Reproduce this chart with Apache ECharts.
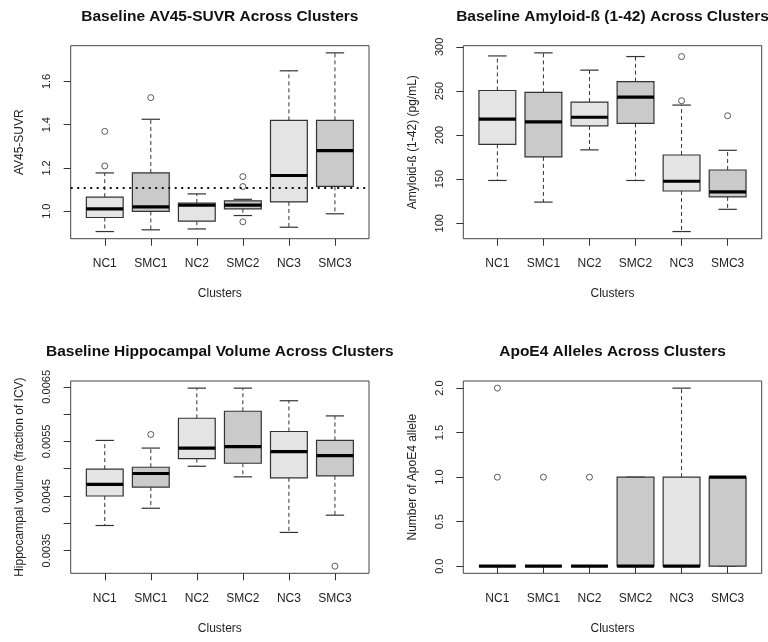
<!DOCTYPE html>
<html>
<head>
<meta charset="utf-8">
<script src="https://cdn.jsdelivr.net/npm/echarts@6/dist/echarts.min.js"></script>
<style>
  html, body { margin: 0; padding: 0; background: #fff; }
  #chart { width: 768px; height: 642px; }
</style>
</head>
<body>
<div id="chart"></div>
<script>
// categories shared by all four panels
const categories = ['NC1', 'SMC1', 'NC2', 'SMC2', 'NC3', 'SMC3'];

// box stats per cluster: [lower whisker, Q1, median, Q3, upper whisker]
const suvrStats = [
  [0.906, 0.971, 1.011, 1.065, 1.177],
  [0.914, 0.999, 1.020, 1.177, 1.425],
  [0.918, 0.954, 1.028, 1.038, 1.080],
  [0.980, 1.011, 1.028, 1.048, 1.055],
  [0.926, 1.043, 1.165, 1.420, 1.649],
  [0.988, 1.115, 1.280, 1.420, 1.732]
];
// outliers: [cluster number, value]
const suvrOutliers = [[1, 1.209], [1, 1.369], [2, 1.525], [4, 1.160], [4, 1.114], [4, 0.951]];
const suvrThreshold = 1.11;
const suvrTicks = [1.0, 1.2, 1.4, 1.6];

const amyloidStats = [
  [148.5, 189.5, 218.0, 250.5, 289.7],
  [124.0, 175.2, 215.0, 248.4, 293.2],
  [183.2, 210.3, 220.2, 237.4, 273.6],
  [148.5, 213.3, 243.0, 260.5, 289.0],
  [90.6, 136.6, 147.6, 177.4, 234.0],
  [115.8, 129.9, 135.5, 160.4, 182.7]
];
const amyloidOutliers = [[5, 289.0], [5, 238.9], [6, 221.9]];
const amyloidTicks = [100, 150, 200, 250, 300];

const hippoStats = [
  [0.003960, 0.004500, 0.004713, 0.004991, 0.005518],
  [0.004276, 0.004664, 0.004912, 0.005027, 0.005378],
  [0.005045, 0.005185, 0.005378, 0.005924, 0.006476],
  [0.004851, 0.005100, 0.005403, 0.006052, 0.006476],
  [0.003833, 0.004833, 0.005312, 0.005682, 0.006245],
  [0.004149, 0.004869, 0.005240, 0.005518, 0.005967]
];
const hippoOutliers = [[2, 0.005627], [6, 0.003215]];
const hippoTicks = [0.0035, 0.004, 0.0045, 0.005, 0.0055, 0.006, 0.0065];
const hippoLabels = [0.0035, 0.0045, 0.0055, 0.0065];

const apoeStats = [
  [0, 0, 0, 0, 0],
  [0, 0, 0, 0, 0],
  [0, 0, 0, 0, 0],
  [0, 0, 0, 1, 1],
  [0, 0, 0, 1, 2],
  [0, 0, 1, 1, 1]
];
const apoeOutliers = [[1, 1], [1, 2], [2, 1], [3, 1]];
const apoeTicks = [0, 0.5, 1, 1.5, 2];

const titles = [
  'Baseline AV45-SUVR Across Clusters',
  'Baseline Amyloid-ß (1-42) Across Clusters',
  'Baseline Hippocampal Volume Across Clusters',
  'ApoE4 Alleles Across Clusters'
];
const yNames = [
  'AV45-SUVR',
  'Amyloid-ß (1-42) (pg/mL)',
  'Hippocampal volume (fraction of ICV)',
  'Number of ApoE4 allele'
];

const FONT = 'Liberation Sans, Arial, sans-serif';
const INK = '#333';
const TEXT = '#222';
const FILLS = ['#e4e4e4', '#cacaca'];
const BOX_W = 0.8;

const grids = [
  { left: 70.7, top: 45.7, width: 298.3, height: 193 },
  { left: 463.3, top: 45.7, width: 298.4, height: 193 },
  { left: 70.7, top: 381, width: 298.3, height: 192.3 },
  { left: 463.3, top: 381, width: 298.4, height: 192.3 }
];

// R-style 4% padding of the data range
function padRange(stats, outliers) {
  const vals = stats.flat().concat(outliers.map(o => o[1]));
  const lo = Math.min(...vals), hi = Math.max(...vals);
  const d = (hi - lo) * 0.04;
  return [lo - d, hi + d];
}

function renderBox(params, api) {
  const x = api.value(0);
  const lo = api.value(1), q1 = api.value(2), med = api.value(3), q3 = api.value(4), hi = api.value(5);
  const bw = api.size([BOX_W, 0])[0];
  const sw = bw * 0.5;
  const cx = api.coord([x, med])[0];
  const y = v => api.coord([x, v])[1];
  const dashed = { stroke: INK, lineWidth: 1, lineDash: [4, 3] };
  const solid = { stroke: INK, lineWidth: 1.2 };
  return {
    type: 'group',
    children: [
      { type: 'line', shape: { x1: cx, y1: y(q3), x2: cx, y2: y(hi) }, style: dashed },
      { type: 'line', shape: { x1: cx, y1: y(q1), x2: cx, y2: y(lo) }, style: dashed },
      { type: 'line', shape: { x1: cx - sw / 2, y1: y(hi), x2: cx + sw / 2, y2: y(hi) }, style: solid },
      { type: 'line', shape: { x1: cx - sw / 2, y1: y(lo), x2: cx + sw / 2, y2: y(lo) }, style: solid },
      { type: 'rect', shape: { x: cx - bw / 2, y: y(q3), width: bw, height: y(q1) - y(q3) },
        style: { fill: FILLS[params.dataIndex % 2], stroke: INK, lineWidth: 1.2 } },
      { type: 'line', shape: { x1: cx - bw / 2, y1: y(med), x2: cx + bw / 2, y2: y(med) },
        style: { stroke: '#000', lineWidth: 3.2 } }
    ]
  };
}

const panels = [
  { stats: suvrStats, outliers: suvrOutliers, ticks: suvrTicks, labels: suvrTicks, fmt: v => v.toFixed(1) },
  { stats: amyloidStats, outliers: amyloidOutliers, ticks: amyloidTicks, labels: amyloidTicks, fmt: v => String(Math.round(v)) },
  { stats: hippoStats, outliers: hippoOutliers, ticks: hippoTicks, labels: hippoLabels, fmt: v => v.toFixed(4) },
  { stats: apoeStats, outliers: apoeOutliers, ticks: apoeTicks, labels: apoeTicks, fmt: v => v.toFixed(1) }
];

const catIdx = categories.map((c, i) => i + 1);

const option = {
  animation: false,
  backgroundColor: '#fff',
  title: titles.map((t, i) => ({
    text: t,
    left: grids[i].left + grids[i].width / 2,
    top: i < 2 ? 9 : 344,
    padding: 0,
    textAlign: 'center',
    textStyle: { fontFamily: FONT, fontSize: 15.5, fontWeight: 'bold', color: '#111' }
  })),
  grid: grids.map(g => Object.assign({ show: true, borderColor: '#444', borderWidth: 1, backgroundColor: 'transparent' }, g)),
  xAxis: grids.map((g, i) => ({
    type: 'value',
    gridIndex: i,
    min: 0.26,
    max: 6.74,
    name: 'Clusters',
    nameLocation: 'middle',
    nameGap: 49,
    nameTextStyle: { fontFamily: FONT, fontSize: 12, color: TEXT },
    axisLine: { show: false },
    splitLine: { show: false },
    axisTick: { show: true, inside: false, length: 7, customValues: catIdx, lineStyle: { color: INK } },
    axisLabel: {
      customValues: catIdx,
      margin: 19,
      fontFamily: FONT, fontSize: 12, color: TEXT,
      formatter: v => categories[Math.round(v) - 1]
    }
  })),
  yAxis: panels.map((p, i) => {
    const r = padRange(p.stats, p.outliers);
    return {
      type: 'value',
      gridIndex: i,
      min: r[0],
      max: r[1],
      name: yNames[i],
      nameLocation: 'middle',
      nameGap: 45,
      nameTextStyle: { fontFamily: FONT, fontSize: 12, color: TEXT },
      axisLine: { show: false },
      splitLine: { show: false },
      axisTick: { show: true, inside: false, length: 7, customValues: p.ticks, lineStyle: { color: INK } },
      axisLabel: {
        customValues: p.labels,
        rotate: 90,
        margin: 18,
        fontFamily: FONT, fontSize: 11, color: TEXT,
        formatter: p.fmt
      }
    };
  }),
  series: []
};

panels.forEach((p, i) => {
  const boxSeries = {
    type: 'custom',
    xAxisIndex: i,
    yAxisIndex: i,
    renderItem: renderBox,
    encode: { x: 0, y: [1, 2, 3, 4, 5] },
    data: p.stats.map((s, k) => [k + 1].concat(s)),
    z: 2
  };
  if (i === 0) {
    boxSeries.markLine = {
      silent: true,
      symbol: 'none',
      label: { show: false },
      lineStyle: { type: [2, 4.5], width: 2, color: '#111' },
      data: [{ yAxis: suvrThreshold }]
    };
  }
  option.series.push(boxSeries);
  option.series.push({
    type: 'scatter',
    xAxisIndex: i,
    yAxisIndex: i,
    symbol: 'circle',
    symbolSize: 6,
    itemStyle: { color: 'rgba(0,0,0,0)', borderColor: INK, borderWidth: 1 },
    data: p.outliers,
    z: 3
  });
});

const chart = echarts.init(document.getElementById('chart'));
chart.setOption(option);
</script>
</body>
</html>
